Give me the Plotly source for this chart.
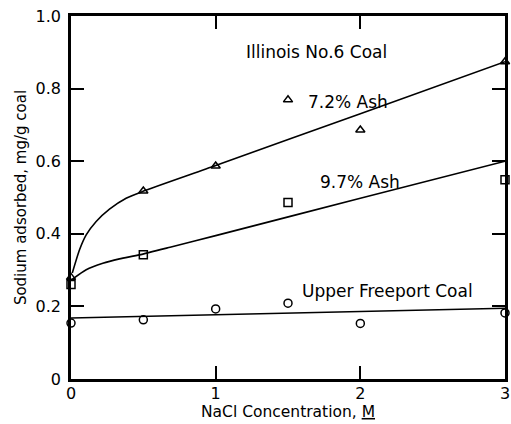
import plotly.graph_objects as go

# measured points
ash72_x = [0, 0.5, 1, 1.5, 2, 3]
ash72_y = [0.28, 0.518, 0.587, 0.769, 0.686, 0.874]
ash97_x = [0, 0.5, 1.5, 3]
ash97_y = [0.26, 0.342, 0.486, 0.549]
freeport_x = [0, 0.5, 1, 1.5, 2, 3]
freeport_y = [0.154, 0.163, 0.193, 0.209, 0.153, 0.182]

# fitted curves
fit72_x = [0.009, 0.059, 0.105, 0.174, 0.266, 0.381, 0.497, 1, 2, 3]
fit72_y = [0.292, 0.356, 0.397, 0.434, 0.468, 0.498, 0.517, 0.588, 0.731, 0.874]
fit97_x = [0.01, 0.105, 0.22, 0.335, 0.473, 0.685, 1, 2, 3]
fit97_y = [0.275, 0.301, 0.319, 0.331, 0.342, 0.363, 0.395, 0.498, 0.600]
fitfp_x = [0, 3]
fitfp_y = [0.168, 0.195]

x_ticks = [0, 1, 2, 3]
x_ticklabels = ["0", "1", "2", "3"]
y_ticks = [0, 0.2, 0.4, 0.6, 0.8, 1.0]
y_ticklabels = ["0", "0.2", "0.4", "0.6", "0.8", "1.0"]

labels = ["Illinois No.6 Coal", "7.2% Ash", "9.7% Ash", "Upper Freeport Coal"]
label_x = [1.695, 1.913, 2.0, 2.19]
label_y = [0.901, 0.762, 0.542, 0.242]

FONT = "DejaVu Sans"
fig = go.Figure()

for fx, fy in [(fit72_x, fit72_y), (fit97_x, fit97_y), (fitfp_x, fitfp_y)]:
    fig.add_trace(go.Scatter(x=fx, y=fy, mode="lines",
                             line=dict(color="black", width=1.6, shape="spline", smoothing=0.6),
                             showlegend=False, hoverinfo="skip", cliponaxis=False))

for px, py, sym in [(ash72_x, ash72_y, "triangle-up-open"),
                    (ash97_x, ash97_y, "square-open"),
                    (freeport_x, freeport_y, "circle-open")]:
    fig.add_trace(go.Scatter(x=px, y=py, mode="markers",
                             marker=dict(symbol=sym, size=8, color="black",
                                         line=dict(width=1.5, color="black")),
                             showlegend=False, cliponaxis=False))

for t, lx, ly in zip(labels, label_x, label_y):
    fig.add_annotation(x=lx, y=ly, text=t, showarrow=False,
                       font=dict(family=FONT, size=17, color="black"))

fig.update_layout(
    width=511, height=424,
    margin=dict(l=71, r=6, t=16, b=45, autoexpand=False),
    paper_bgcolor="white", plot_bgcolor="white",
    font=dict(family=FONT, size=16, color="black"),
    xaxis=dict(range=[0, 3], tickvals=x_ticks, ticktext=x_ticklabels,
               ticks="inside", ticklen=13, tickwidth=1.5, tickcolor="black",
               showline=True, linewidth=2.5, linecolor="black", mirror="ticks",
               showgrid=False, zeroline=False, ticklabelstandoff=-2,
               tickfont=dict(family=FONT, size=16),
               automargin=False,
               title=dict(text="NaCl Concentration, <u>M</u>", standoff=1,
                          font=dict(family=FONT, size=15.5))),
    yaxis=dict(range=[0, 1], tickvals=y_ticks, ticktext=y_ticklabels,
               ticks="inside", ticklen=13, tickwidth=1.5, tickcolor="black",
               showline=True, linewidth=2.5, linecolor="black", mirror="ticks",
               showgrid=False, zeroline=False, ticklabelstandoff=4,
               tickfont=dict(family=FONT, size=16),
               automargin=False,
               title=dict(text="Sodium adsorbed, mg/g coal", standoff=6,
                          font=dict(family=FONT, size=15))),
)

fig.write_html("out.html", config={"displayModeBar": False},
               post_script="document.body.style.margin='0';")
